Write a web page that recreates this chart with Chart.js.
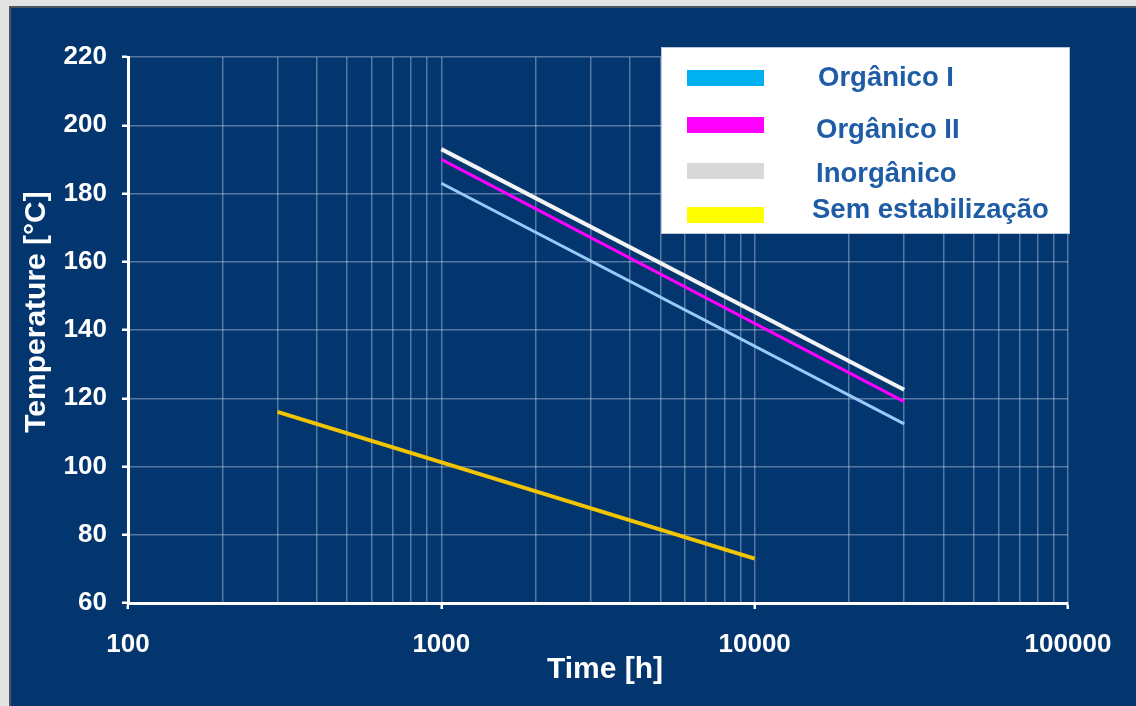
<!DOCTYPE html>
<html>
<head>
<meta charset="utf-8">
<script src="https://cdn.jsdelivr.net/npm/chart.js@4.4.1/dist/chart.umd.min.js"></script>
<style>
  html, body { margin: 0; padding: 0; width: 1136px; height: 706px; overflow: hidden; background: #e3e3e3; }
  #panel { position: absolute; left: 9px; top: 6px; width: 1127px; height: 700px; background: #03356f;
           border-left: 2px solid #4e545c; border-top: 2px solid #4e545c; }
  #c { position: absolute; left: 0; top: 0; }
</style>
</head>
<body>
<div id="panel"></div>
<canvas id="c" width="1136" height="706"></canvas>
<script>
// Series names, as shown in the legend
const seriesNames = ['Orgânico I', 'Orgânico II', 'Inorgânico', 'Sem estabilização'];

// Stabilised compounds: time [h] and temperature [°C]
const stabilisedTimes = [1000, 30000];
const organicoI = [183, 112.5];
const organicoII = [190, 119];
const inorganico = [193, 122.5];

// Unstabilised material
const unstabilisedTimes = [300, 10000];
const semEstabilizacao = [116, 73];

// Axis ticks and titles
const decadeTicks = [100, 1000, 10000, 100000];
const decadeSteps = [1, 2, 3, 4, 5, 6, 7, 8, 9];
const temperatureTicks = [60, 80, 100, 120, 140, 160, 180, 200, 220];
const xTitle = 'Time [h]';
const yTitle = 'Temperature [°C]';

// Colours
const lineColors = ['#98cbf8', '#ff00ff', '#f4f4f4', '#f2c500'];
const swatchColors = ['#00b0f0', '#ff00ff', '#d9d9d9', '#ffff00'];

const gridTimes = [];
decadeTicks.forEach(d => {
  decadeSteps.forEach(s => { const v = d * s; if (v <= 100000) gridTimes.push(v); });
});

const toPoints = (xs, ys) => xs.map((x, i) => ({ x: x, y: ys[i] }));

const seriesData = [
  toPoints(stabilisedTimes, organicoI),
  toPoints(stabilisedTimes, organicoII),
  toPoints(stabilisedTimes, inorganico),
  toPoints(unstabilisedTimes, semEstabilizacao)
];
const lineWidths = [3, 3, 4, 4];

const FONT = '"Liberation Sans", Arial, sans-serif';
Chart.defaults.font.family = FONT;
Chart.defaults.font.weight = 'bold';

const gridColor = 'rgba(220,230,245,0.38)';

// Axis titles, placed by hand
const axisTitles = {
  id: 'axisTitles',
  afterDraw(chart) {
    const ctx = chart.ctx;
    ctx.save();
    ctx.fillStyle = '#ffffff';
    ctx.font = 'bold 30px ' + FONT;
    ctx.textAlign = 'center';
    ctx.textBaseline = 'alphabetic';
    ctx.fillText(xTitle, 605, 678);
    ctx.translate(45, 312);
    ctx.rotate(-Math.PI / 2);
    ctx.fillText(yTitle, 0, 0);
    ctx.restore();
  }
};

// Boxed legend in the upper right of the plot
const boxedLegend = {
  id: 'boxedLegend',
  afterDraw(chart) {
    const ctx = chart.ctx;
    ctx.save();
    ctx.fillStyle = '#ffffff';
    ctx.fillRect(661, 47, 409, 187);
    ctx.strokeStyle = '#b9c7dd';
    ctx.lineWidth = 1;
    ctx.strokeRect(661.5, 47.5, 408, 186);
    const swatchTops = [70, 117, 163, 207];
    const baselines = [86, 138, 182, 218];
    const textLeft = [818, 816, 816, 812];
    ctx.font = 'bold 27.5px ' + FONT;
    ctx.textBaseline = 'alphabetic';
    ctx.textAlign = 'left';
    seriesNames.forEach((name, i) => {
      ctx.fillStyle = swatchColors[i];
      ctx.fillRect(687, swatchTops[i], 77, 16);
      ctx.fillStyle = '#1e5ca6';
      ctx.fillText(name, textLeft[i], baselines[i]);
    });
    ctx.restore();
  }
};

new Chart(document.getElementById('c'), {
  type: 'line',
  data: {
    datasets: seriesNames.map((name, i) => ({
      label: name,
      data: seriesData[i],
      borderColor: lineColors[i],
      borderWidth: lineWidths[i],
      pointRadius: 0,
      tension: 0,
      fill: false
    }))
  },
  options: {
    responsive: false,
    animation: false,
    devicePixelRatio: 1,
    layout: { padding: { left: 0, top: 57, right: 68, bottom: 0 } },
    plugins: { legend: { display: false }, tooltip: { enabled: false } },
    scales: {
      x: {
        type: 'logarithmic',
        min: 100,
        max: 100000,
        afterBuildTicks: s => { s.ticks = gridTimes.map(v => ({ value: v, major: decadeTicks.includes(v) })); },
        afterFit: s => { s.height = 103; },
        ticks: {
          autoSkip: false,
          maxRotation: 0,
          color: '#ffffff',
          font: { size: 26, weight: 'bold' },
          padding: 20,
          callback: v => decadeTicks.includes(v) ? String(v) : ''
        },
        grid: {
          color: gridColor,
          lineWidth: 1.5,
          tickLength: 6,
          tickWidth: 2.5,
          tickColor: c => (c.tick && decadeTicks.includes(c.tick.value)) ? '#ffffff' : 'rgba(0,0,0,0)'
        },
        border: { color: '#ffffff', width: 3 },
        title: { display: false }
      },
      y: {
        min: 60,
        max: 220,
        afterBuildTicks: s => { s.ticks = temperatureTicks.map(v => ({ value: v })); },
        afterFit: s => { s.width = 128; },
        ticks: {
          color: '#ffffff',
          font: { size: 26, weight: 'bold' },
          padding: 15
        },
        grid: {
          color: gridColor,
          lineWidth: 1.5,
          tickLength: 6,
          tickWidth: 2.5,
          tickColor: '#ffffff'
        },
        border: { color: '#ffffff', width: 3 },
        title: { display: false }
      }
    }
  },
  plugins: [axisTitles, boxedLegend]
});
</script>
</body>
</html>
